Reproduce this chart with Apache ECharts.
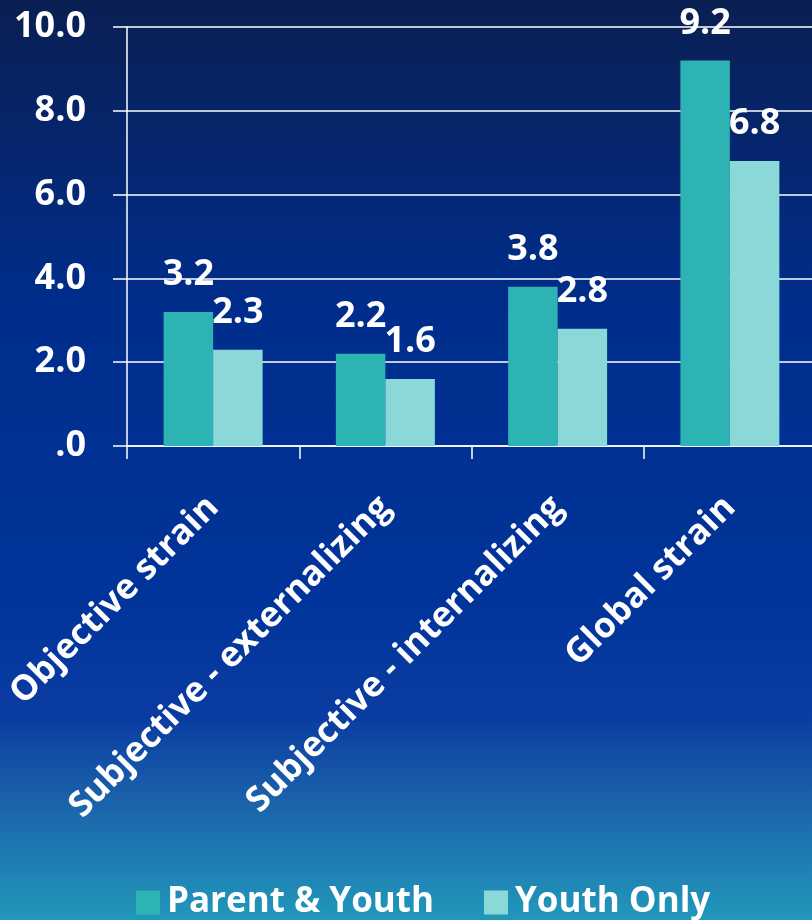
<!DOCTYPE html>
<html>
<head>
<meta charset="utf-8">
<script src="https://cdn.jsdelivr.net/npm/echarts@6/dist/echarts.min.js"></script>
<style>
  html, body { margin: 0; padding: 0; overflow: hidden; }
  /* canvas is a little wider than the window so the plot runs off the right edge */
  #chart { width: 820px; height: 920px; }
</style>
</head>
<body>
<div id="chart"></div>
<script>
// Family strain scores by informant group
const categories = ['Objective strain', 'Subjective - externalizing', 'Subjective - internalizing', 'Global strain'];
const parentYouth = [3.2, 2.2, 3.8, 9.2];
const youthOnly = [2.3, 1.6, 2.8, 6.8];
const seriesNames = ['Parent & Youth', 'Youth Only'];
const yTicks = [0, 2, 4, 6, 8, 10];

const FONT = '"Open Sans", "DejaVu Sans", sans-serif';

const chart = echarts.init(document.getElementById('chart'), null, { renderer: 'canvas' });

const valueLabel = {
  show: true,
  position: 'top',
  distance: 19,
  color: '#ffffff',
  fontFamily: FONT,
  fontWeight: 'bold',
  fontSize: 36,
  formatter: p => p.value.toFixed(1)
};

chart.setOption({
  backgroundColor: {
    type: 'linear', x: 0, y: 0, x2: 0, y2: 1,
    colorStops: [
      { offset: 0, color: '#0a1f52' },
      { offset: 0.33, color: '#002d8b' },
      { offset: 0.65, color: '#01349a' },
      { offset: 0.78, color: '#0a3ca2' },
      { offset: 0.87, color: '#1b62aa' },
      { offset: 1, color: '#2198ba' }
    ]
  },
  animation: false,
  grid: { left: 127, top: 27, right: 4, height: 419 },
  legend: {
    left: 131,
    top: 880,
    itemWidth: 24,
    itemHeight: 24,
    itemGap: 50,
    icon: 'rect',
    textStyle: { color: '#ffffff', fontFamily: FONT, fontWeight: 'bold', fontSize: 35, padding: [0, 0, 0, 2] },
    data: seriesNames
  },
  xAxis: {
    type: 'category',
    data: categories,
    axisLine: { lineStyle: { color: '#ffffff', width: 1.5 } },
    axisTick: { show: true, length: 13, lineStyle: { color: '#ffffff', width: 1.5 } },
    axisLabel: {
      rotate: 45,
      interval: 0,
      margin: 56,
      color: '#ffffff',
      fontFamily: FONT,
      fontWeight: 'bold',
      fontSize: 35
    }
  },
  yAxis: {
    type: 'value',
    min: yTicks[0],
    max: yTicks[yTicks.length - 1],
    interval: 2,
    axisLine: { show: true, lineStyle: { color: '#ffffff', width: 1.5 } },
    axisTick: { show: true, length: 14, lineStyle: { color: '#ffffff', width: 1.5 } },
    splitLine: { show: true, lineStyle: { color: '#ffffff', width: 1.5 } },
    axisLabel: {
      margin: 41,
      color: '#ffffff',
      fontFamily: FONT,
      fontWeight: 'bold',
      fontSize: 36,
      formatter: v => (v === 0 ? '.0' : v.toFixed(1))
    }
  },
  series: [
    {
      name: seriesNames[0],
      type: 'bar',
      data: parentYouth,
      barWidth: 49.5,
      barGap: '0%',
      itemStyle: { color: '#2db3b3' },
      label: valueLabel
    },
    {
      name: seriesNames[1],
      type: 'bar',
      data: youthOnly,
      barWidth: 49.5,
      barGap: '0%',
      itemStyle: { color: '#8ad8d8' },
      label: valueLabel
    }
  ]
});
</script>
</body>
</html>
